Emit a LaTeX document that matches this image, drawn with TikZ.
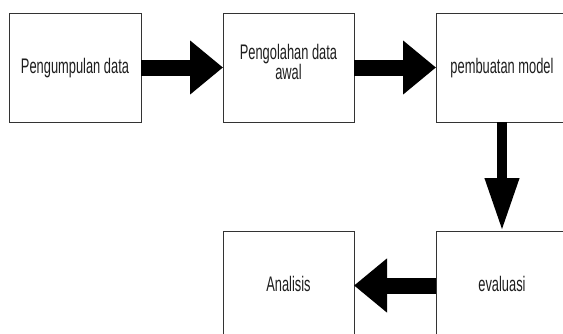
\documentclass[tikz,border=0pt]{standalone}
\usepackage{fontspec}
\setmainfont{Liberation Sans}
\usetikzlibrary{arrows.meta}
\definecolor{boxline}{HTML}{333333}
\definecolor{txt}{HTML}{1E1E1E}
\newcommand{\bxt}[2]{\smash{\raisebox{#1}{\scalebox{0.66}[1.08]{\fontsize{19.5}{16.7}\selectfont\begin{tabular}[t]{@{}c@{}}#2\end{tabular}}}}}
\tikzset{
  procbox/.style={draw=boxline, line width=1pt, fill=white, minimum width=132pt, minimum height=109pt, inner sep=0pt, outer sep=0pt, text=txt},
  bigarrow/.style={line width=16pt, -{Triangle[length=33pt,width=52pt]}},
  downarrow/.style={line width=10pt, -{Triangle[length=53pt,width=32pt]}}
}
\begin{document}
\begin{tikzpicture}[x=1pt,y=-1pt]
\useasboundingbox (0,0) rectangle (563,333);
\clip (0,0) rectangle (563,333);
\fill[white] (0,0) rectangle (563,333);
\node[procbox] (b1) at (75,67.5) {\bxt{-5.8pt}{Pengumpulan data}};
\node[procbox, minimum width=131pt] (b2) at (288.5,67.5) {\bxt{8.5pt}{Pengolahan data\\awal}};
\node[procbox] (b3) at (502,67.5) {\bxt{-5.8pt}{pembuatan model}};
\node[procbox] (b4) at (502,285.5) {\bxt{-6.2pt}{evaluasi}};
\node[procbox, minimum width=131pt] (b5) at (288.5,285.5) {\bxt{-6.2pt}{Analisis}};
\draw[bigarrow] (b1.east) -- (b2.west);
\draw[bigarrow] (b2.east) -- (b3.west);
\draw[downarrow] (b3.south) -- (b4.north);
\draw[bigarrow] (b4.west) -- (b5.east);
\end{tikzpicture}
\end{document}
